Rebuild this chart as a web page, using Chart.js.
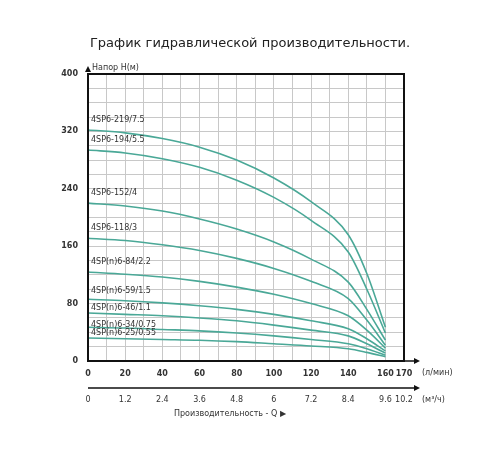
<!DOCTYPE html>
<html>
<head>
<meta charset="utf-8">
<script src="https://cdn.jsdelivr.net/npm/chart.js@4"></script>
<style>
  body { margin: 0; background: #fff; }
  #wrap { width: 500px; height: 450px; }
</style>
</head>
<body>
<div id="wrap"><canvas id="graf"></canvas></div>
<script>
// Данные кривых (Q л/мин -> H м)
const qPuntos = [0, 20, 40, 60, 80, 100, 120, 140, 150, 160];
const modelos = ['4SP6-219/7.5', '4SP6-194/5.5', '4SP6-152/4', '4SP6-118/3', '4SP(n)6-84/2.2',
  '4SP(n)6-59/1.5', '4SP(n)6-46/1.1', '4SP(n)6-34/0.75', '4SP(n)6-25/0.55'];
const h219 = [322, 318, 310, 298, 280, 255, 222, 176, 122, 47];
const h194 = [294, 290, 282, 270, 252, 228, 196, 152, 100, 39];
const h152 = [220, 216, 209, 198, 184, 166, 142, 110, 72, 29];
const h118 = [171, 168, 162, 154, 143, 129, 111, 87, 57, 22];
const h84 = [124, 121, 117, 111, 103, 93, 80, 63, 43, 18];
const h59 = [86, 84, 81, 77, 72, 65, 56, 45, 31, 14];
const h46 = [67, 65, 63, 60, 56, 50, 43, 35, 24, 11];
const h34 = [47, 46, 44, 42, 39, 35, 30, 24, 17, 8];
const h25 = [32, 31, 30, 29, 27, 24, 21, 17, 12, 6];
const series = [h219, h194, h152, h118, h84, h59, h46, h34, h25];
// смещение подписи над началом кривой (в метрах)
const subirEtiqueta = [14, 14, 14, 14, 14, 12, 7, 3, 7];
const ticksM3 = [0, 1.2, 2.4, 3.6, 4.8, 6, 7.2, 8.4, 9.6, 10.2];

const verde = '#4aa897';
const fuente = 'DejaVu Sans';

const datasets = series.map((s, i) => ({
  label: modelos[i],
  data: s.map((h, j) => ({ x: qPuntos[j], y: h })),
  borderColor: verde,
  borderWidth: 1.6,
  pointRadius: 0,
  cubicInterpolationMode: 'monotone',
  fill: false
}));

const extras = {
  id: 'extras',
  afterDraw(chart) {
    const ctx = chart.ctx;
    const a = chart.chartArea;
    const x = chart.scales.x, y = chart.scales.y;
    ctx.save();
    // рамка
    ctx.strokeStyle = '#111';
    ctx.lineWidth = 2;
    ctx.strokeRect(a.left, a.top, a.right - a.left, a.bottom - a.top);
    // стрелки
    ctx.lineWidth = 1.5;
    ctx.beginPath();
    ctx.moveTo(a.right, a.bottom); ctx.lineTo(a.right + 12, a.bottom);
    ctx.moveTo(a.left, 388); ctx.lineTo(a.right + 12, 388);
    ctx.stroke();
    ctx.fillStyle = '#111';
    [[a.right + 16, a.bottom], [a.right + 16, 388]].forEach(([px, py]) => {
      ctx.beginPath(); ctx.moveTo(px, py); ctx.lineTo(px - 6, py - 3); ctx.lineTo(px - 6, py + 3); ctx.fill();
    });
    ctx.beginPath();
    ctx.moveTo(a.left, a.top - 8); ctx.lineTo(a.left - 3, a.top - 2); ctx.lineTo(a.left + 3, a.top - 2); ctx.fill();
    // подписи
    ctx.fillStyle = '#333';
    ctx.font = '8px ' + fuente;
    ctx.textBaseline = 'middle';
    ctx.textAlign = 'left';
    ctx.fillText('Напор H(м)', a.left + 4, a.top - 6);
    ctx.fillText('(л/мин)', a.right + 18, 373);
    ctx.fillText('(м³/ч)', a.right + 18, 400);
    series.forEach((s, i) => {
      ctx.fillText(modelos[i], a.left + 3, y.getPixelForValue(s[0] + subirEtiqueta[i]));
    });
    ctx.textAlign = 'center';
    ctx.fillText('Производительность - Q ▶', 230, 414);
    ticksM3.forEach(t => {
      ctx.fillText(String(t), x.getPixelForValue(t / 0.06), 400);
    });
    ctx.font = '13px ' + fuente;
    ctx.fillStyle = '#222';
    ctx.fillText('График гидравлической производительности.', 250, 44);
    ctx.restore();
  }
};

new Chart(document.getElementById('graf'), {
  type: 'line',
  data: { datasets },
  options: {
    responsive: true,
    maintainAspectRatio: false,
    animation: false,
    layout: { padding: { left: 0, right: 96, top: 74, bottom: 0 } },
    plugins: { legend: { display: false }, tooltip: { enabled: false } },
    scales: {
      x: {
        type: 'linear', min: 0, max: 170,
        afterFit: s => { s.height = 89; },
        grid: { color: '#c8c8c8', drawTicks: false },
        border: { display: false },
        ticks: {
          stepSize: 10, padding: 8, maxRotation: 0, autoSkip: false,
          color: '#333', font: { family: fuente, size: 8, weight: 'bold' },
          callback: v => (v % 20 === 0 || v === 170) ? v : ''
        }
      },
      y: {
        min: 0, max: 400,
        afterFit: s => { s.width = 88; },
        grid: { color: '#c8c8c8', drawTicks: false },
        border: { display: false },
        ticks: {
          stepSize: 20, padding: 10, autoSkip: false,
          color: '#333', font: { family: fuente, size: 8, weight: 'bold' },
          callback: v => v % 80 === 0 ? v : ''
        }
      }
    }
  },
  plugins: [extras]
});
</script>
</body>
</html>
